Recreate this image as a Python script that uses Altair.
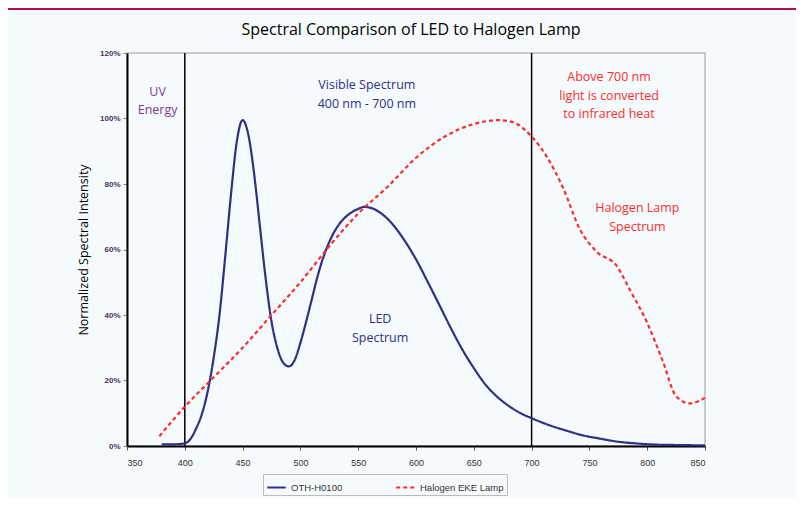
import altair as alt
import pandas as pd

# ---- data ----
led_nm = [380, 390, 400, 405, 410, 415, 420, 425, 430, 435, 440, 445, 450, 455, 460, 465,
          470, 475, 480, 485, 490, 495, 500, 505, 510, 515, 520, 525, 530, 535, 540, 545,
          550, 555, 560, 570, 580, 590, 600, 610, 620, 630, 640, 650, 660, 670, 680, 690,
          700, 715, 730, 745, 760, 775, 790, 805, 825, 850]
led_val = [0.5, 0.5, 0.8, 2.2, 5.5, 10, 17, 27, 40, 58, 77, 93, 99.5, 95, 83, 67,
           51, 38, 30, 25.5, 24.3, 26.2, 31.5, 38, 45, 52, 57.8, 62.3, 65.8, 68.4, 70.2, 71.5,
           72.4, 73, 72.8, 71.0, 67.6, 62.8, 57.0, 50.2, 43.2, 36.1, 29.5, 23.8, 18.8, 15.1, 12.3, 10.1,
           8.5, 6.4, 4.7, 3.2, 2.2, 1.3, 0.8, 0.45, 0.3, 0.2]

hal_nm = [378, 390, 400, 425, 450, 475, 500, 525, 550, 575, 600, 625, 650, 672, 685, 700,
          713, 727, 742, 756, 774, 785, 800, 814, 825, 837, 850]
hal_val = [3, 8, 12, 21, 30, 40, 50, 61, 71, 79, 88, 94.5, 98.3, 99.5, 98.7, 94.5,
           88.4, 79, 66, 59.4, 54.8, 47.7, 37.6, 25.4, 15.2, 13, 14.7]

series_names = ["OTH-H0100", "Halogen EKE Lamp"]
series_colors = ["#2e2f86", "#ff2b2b"]

x_ticks = [350, 400, 450, 500, 550, 600, 650, 700, 750, 800, 850]
y_ticks = [0, 0.2, 0.4, 0.6, 0.8, 1.0, 1.2]
boundaries = [400, 700]

title_text = "Spectral Comparison of LED to Halogen Lamp"

ann_text = [["UV", "Energy"], ["Visible Spectrum", "400 nm - 700 nm"],
            ["Above 700 nm", "light is converted", "to infrared heat"],
            ["Halogen Lamp", "Spectrum"], ["LED", "Spectrum"]]
ann_x = [376.5, 557.5, 767, 791.5, 569]
ann_y = [1.10, 1.12, 1.145, 0.745, 0.405]
ann_color = ["#7a3a9a", "#2e2f86", "#ff2b2b", "#ff2b2b", "#2e2f86"]

# ---- tables ----
rows = []
for n, v in zip(led_nm, led_val):
    rows.append({"nm": n, "val": v / 100.0, "series": series_names[0]})
for n, v in zip(hal_nm, hal_val):
    rows.append({"nm": n, "val": v / 100.0, "series": series_names[1]})
df = pd.DataFrame(rows)

ann_df = pd.DataFrame({"text": ann_text, "nm": ann_x, "val": ann_y, "c": ann_color})
bound_df = pd.DataFrame({"nm": boundaries})
title_df = pd.DataFrame({"t": [title_text]})

xscale = alt.Scale(domain=[350, 850], nice=False, zero=False)
yscale = alt.Scale(domain=[0, 1.2], nice=False)

lines = alt.Chart(df).mark_line(strokeWidth=2.2, interpolate="monotone").encode(
    x=alt.X("nm:Q", scale=xscale,
            axis=alt.Axis(values=x_ticks, title=None, grid=False, format="d",
                          domainColor="black", domainWidth=2, tickColor="#555",
                          tickSize=4, labelFontSize=9, labelPadding=8,
                          labelColor="#333", labelFont="Liberation Sans")),
    y=alt.Y("val:Q", scale=yscale,
            axis=alt.Axis(values=y_ticks, format=".0%", grid=False,
                          title="Normalized Spectral Intensity",
                          titleFontSize=12.5, titleFontWeight="normal",
                          titleFont="Open Sans", titleColor="black", titlePadding=9,
                          domainColor="black", domainWidth=2, tickColor="#888",
                          tickSize=4, labelFontSize=8, labelFontWeight="bold",
                          labelColor="#4a3060", labelFont="Liberation Sans", labelPadding=3)),
    color=alt.Color("series:N",
                    scale=alt.Scale(domain=series_names, range=series_colors),
                    legend=alt.Legend(title=None, orient="none", direction="horizontal",
                                      legendX=136, legendY=421,
                                      symbolType="stroke", symbolSize=340,
                                      symbolStrokeWidth=2.2,
                                      labelFontSize=9.5, labelColor="#333",
                                      labelFont="Liberation Sans",
                                      strokeColor="#bbbbbb", padding=3,
                                      columnPadding=48, fillColor="#f5fbfc")),
    strokeDash=alt.StrokeDash("series:N",
                              scale=alt.Scale(domain=series_names, range=[[1, 0], [4, 3]]),
                              legend=None),
)

rules = alt.Chart(bound_df).mark_rule(color="black", strokeWidth=1.5).encode(
    x=alt.X("nm:Q", scale=xscale),
    y=alt.value(0),
    y2=alt.value(393),
)

texts = alt.Chart(ann_df).mark_text(fontSize=12.5, font="Open Sans", lineHeight=18.5,
                                    baseline="top", align="center").encode(
    x=alt.X("nm:Q", scale=xscale),
    y=alt.Y("val:Q", scale=yscale),
    text="text",
    color=alt.Color("c:N", scale=None),
)

title = alt.Chart(title_df).mark_text(fontSize=16, font="Open Sans", color="black",
                                      baseline="middle", align="center").encode(
    x=alt.value(284), y=alt.value(-23), text="t"
)

top_band = alt.Chart(title_df).mark_rect(color="#b70c4e").encode(
    x=alt.value(-119), x2=alt.value(669), y=alt.value(-45), y2=alt.value(-43)
)

chart = alt.layer(top_band, rules, lines, texts, title).properties(
    width=578, height=393,
    autosize=alt.AutoSizeParams(type="none"),
    padding={"left": 119, "top": 45, "right": 91, "bottom": 52},
    background="#f5fbfc",
).configure_view(stroke="#bbbbbb", strokeWidth=1.5)

chart.save("out.html", embed_options={"renderer": "svg", "actions": False})
